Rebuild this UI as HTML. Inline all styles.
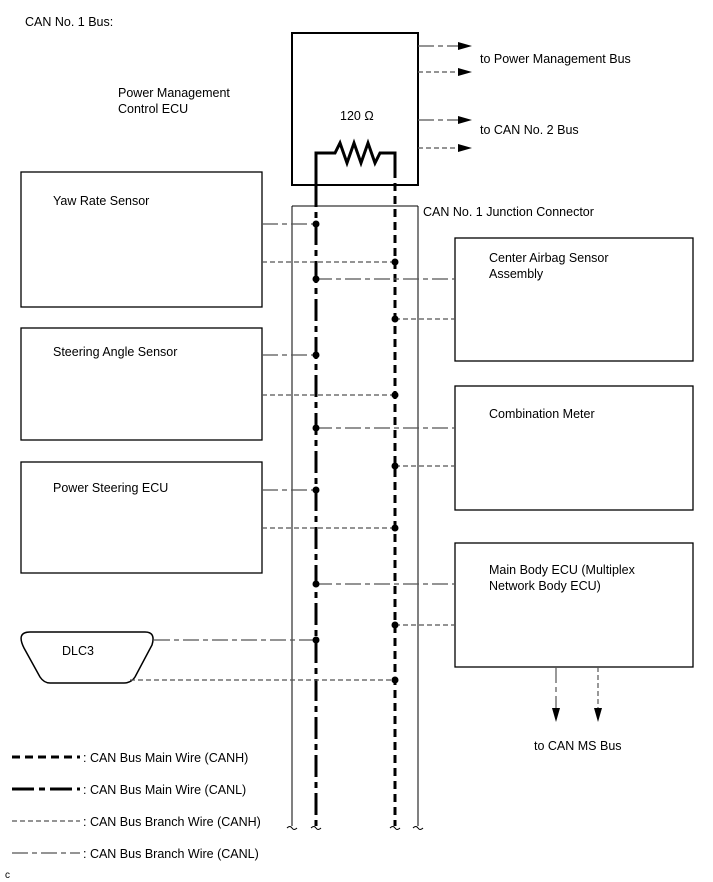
<!DOCTYPE html>
<html><head><style>body{margin:0;background:#fff}svg{display:block}text{font-family:"Liberation Sans",sans-serif;font-size:12.5px;fill:#000}</style></head><body>
<svg width="713" height="882" viewBox="0 0 713 882">
<g fill="none" stroke="#000">
<rect x="292" y="33" width="126" height="152" stroke-width="2"/>
<path d="M292 206V826M418 206V826M292 206H418" stroke-width="1"/>
<rect x="21" y="172" width="241" height="135" stroke-width="1.3"/>
<rect x="21" y="328" width="241" height="112" stroke-width="1.3"/>
<rect x="21" y="462" width="241" height="111" stroke-width="1.3"/>
<rect x="455" y="238" width="238" height="123" stroke-width="1.3"/>
<rect x="455" y="386" width="238" height="124" stroke-width="1.3"/>
<rect x="455" y="543" width="238" height="124" stroke-width="1.3"/>
<path d="M30 632H145Q156 632 152 645L135 677Q131 683 124 683H50Q44 683 40 677L24 648Q16 632 30 632Z" stroke-width="1.5"/>
<path d="M316 185V153H335L340 143L347 163L354 143L361 163L368 143L375 163L380 153H395V170" stroke-width="3"/>
</g>
<g stroke="#000" stroke-width="3" fill="none">
<path d="M316 185V826" stroke-dasharray="22 5 6 5"/>
<path d="M395 170V826" stroke-dasharray="8 5"/>
<path d="M12 757H80" stroke-dasharray="8 5"/>
<path d="M12 789H80" stroke-dasharray="22 5 6 5"/>
</g>
<g stroke="#555" stroke-width="1.2" fill="none">
<g stroke-dasharray="5 3">
<path d="M262 262H395M395 319H455M262 395H395M395 466H455M262 528H395M395 625H455M130 680H395M418 72H460M418 148H460M598 667V710M12 821H80"/>
</g>
<g stroke-dasharray="16 4 5 4">
<path d="M262 224H316M316 279H455M262 355H316M316 428H455M262 490H316M316 584H455M154 640H316M418 46H460M418 120H460M556 667V710M12 853H80"/>
</g>
</g>
<g fill="#000">
<circle cx="316" cy="224" r="3.5"/><circle cx="395" cy="262" r="3.5"/><circle cx="316" cy="279" r="3.5"/><circle cx="395" cy="319" r="3.5"/>
<circle cx="316" cy="355" r="3.5"/><circle cx="395" cy="395" r="3.5"/><circle cx="316" cy="428" r="3.5"/><circle cx="395" cy="466" r="3.5"/>
<circle cx="316" cy="490" r="3.5"/><circle cx="395" cy="528" r="3.5"/><circle cx="316" cy="584" r="3.5"/><circle cx="395" cy="625" r="3.5"/>
<circle cx="316" cy="640" r="3.5"/><circle cx="395" cy="680" r="3.5"/>
<path d="M458 42L472 46L458 50ZM458 68L472 72L458 76ZM458 116L472 120L458 124ZM458 144L472 148L458 152ZM552 708L556 722L560 708ZM594 708L598 722L602 708Z"/>
</g>
<g stroke="#000" stroke-width="1" fill="none"><path d="M287 828q3-3 5 0t5 0M311 828q3-3 5 0t5 0M390 828q3-3 5 0t5 0M413 828q3-3 5 0t5 0"/></g>
<text x="25" y="26">CAN No. 1 Bus:</text>
<text x="118" y="97">Power Management</text>
<text x="118" y="113">Control ECU</text>
<text x="340" y="120">120 Ω</text>
<text x="480" y="63">to Power Management Bus</text>
<text x="480" y="134">to CAN No. 2 Bus</text>
<text x="423" y="216">CAN No. 1 Junction Connector</text>
<text x="53" y="205">Yaw Rate Sensor</text>
<text x="53" y="356">Steering Angle Sensor</text>
<text x="53" y="492">Power Steering ECU</text>
<text x="62" y="655">DLC3</text>
<text x="489" y="262">Center Airbag Sensor</text>
<text x="489" y="278">Assembly</text>
<text x="489" y="418">Combination Meter</text>
<text x="489" y="574">Main Body ECU (Multiplex</text>
<text x="489" y="590">Network Body ECU)</text>
<text x="534" y="750">to CAN MS Bus</text>
<text x="83" y="762">: CAN Bus Main Wire (CANH)</text>
<text x="83" y="794">: CAN Bus Main Wire (CANL)</text>
<text x="83" y="826">: CAN Bus Branch Wire (CANH)</text>
<text x="83" y="858">: CAN Bus Branch Wire (CANL)</text>
<text x="5" y="878" style="font-size:10px">c</text>
</svg>
</body></html>
